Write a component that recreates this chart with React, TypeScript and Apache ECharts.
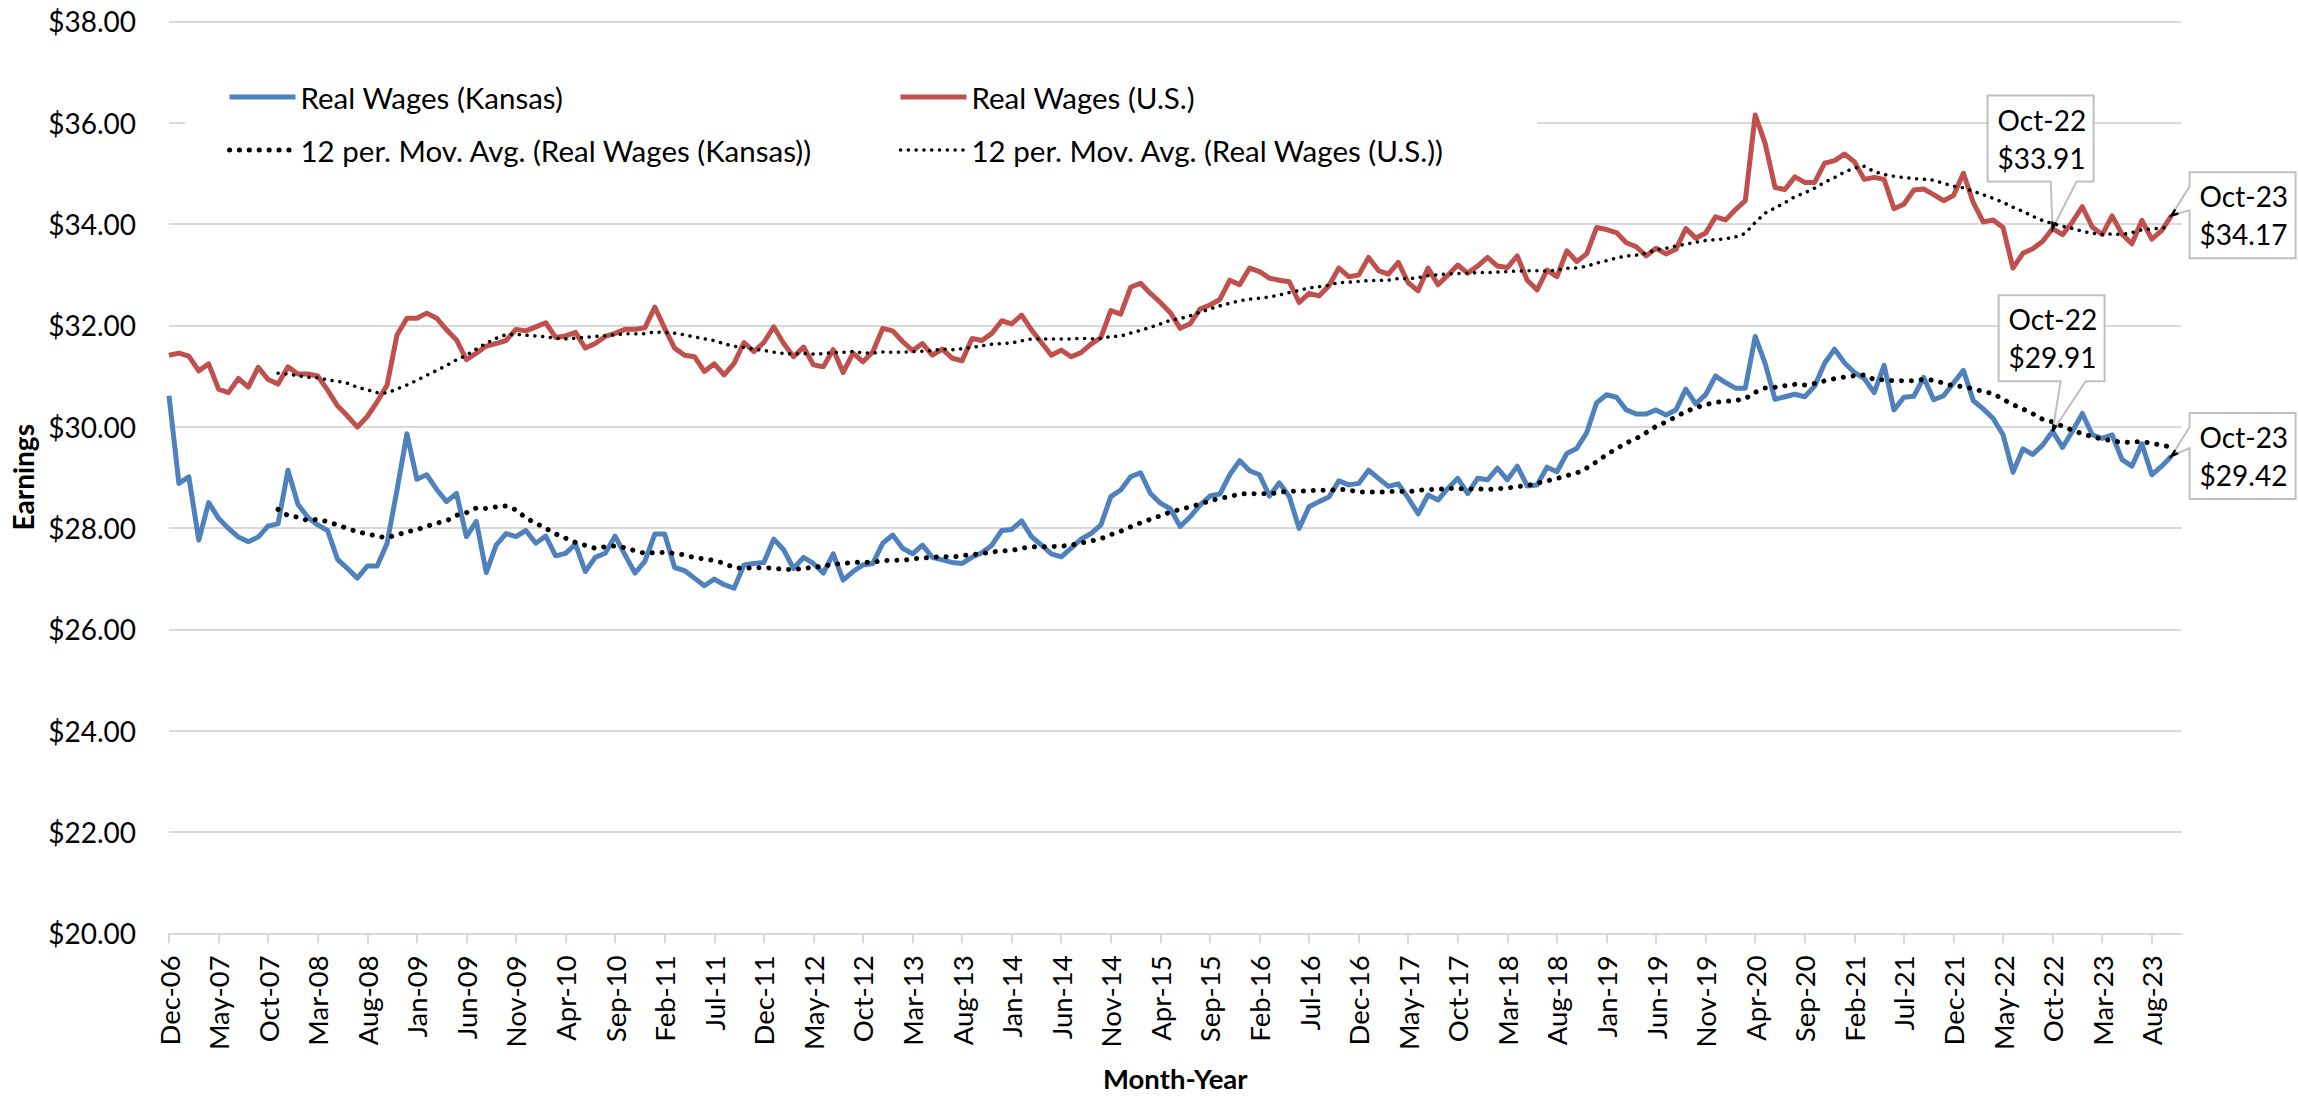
import React, { useEffect, useRef } from "react";
import * as echarts from "echarts";

// ---------- categories (Dec-06 ... Nov-23, monthly) ----------
const MONTHS = ["Jan", "Feb", "Mar", "Apr", "May", "Jun", "Jul", "Aug", "Sep", "Oct", "Nov", "Dec"];
const FIRST_YEAR = 2006;
const FIRST_MONTH = 11; // December
const CATEGORY_COUNT = 204;
const CATEGORIES: string[] = Array.from({ length: CATEGORY_COUNT }, (_, i) => {
  const m = (FIRST_MONTH + i) % 12;
  const y = FIRST_YEAR + Math.floor((FIRST_MONTH + i) / 12);
  return `${MONTHS[m]}-${String(y % 100).padStart(2, "0")}`;
});

// ---------- Real wages, Kansas ----------
const KS_2006 = [30.61];
const KS_2007 = [28.88, 29.01, 27.76, 28.5, 28.19, 27.99, 27.82, 27.73, 27.82, 28.04, 28.08, 29.14];
const KS_2008 = [28.47, 28.21, 28.06, 27.95, 27.38, 27.2, 27.01, 27.25, 27.25, 27.7, 28.75, 29.86];
const KS_2009 = [28.96, 29.05, 28.76, 28.52, 28.68, 27.83, 28.13, 27.12, 27.66, 27.89, 27.83, 27.95];
const KS_2010 = [27.7, 27.84, 27.45, 27.5, 27.68, 27.14, 27.42, 27.5, 27.84, 27.47, 27.11, 27.34];
const KS_2011 = [27.88, 27.88, 27.22, 27.16, 27.01, 26.86, 26.99, 26.88, 26.81, 27.27, 27.3, 27.32];
const KS_2012 = [27.78, 27.57, 27.2, 27.42, 27.3, 27.11, 27.49, 26.97, 27.14, 27.27, 27.3, 27.7];
const KS_2013 = [27.86, 27.6, 27.49, 27.66, 27.42, 27.37, 27.32, 27.3, 27.42, 27.51, 27.66, 27.95];
const KS_2014 = [27.97, 28.14, 27.83, 27.66, 27.49, 27.43, 27.6, 27.78, 27.89, 28.06, 28.62, 28.75];
const KS_2015 = [29.01, 29.09, 28.68, 28.49, 28.38, 28.03, 28.22, 28.45, 28.63, 28.67, 29.05, 29.33];
const KS_2016 = [29.13, 29.05, 28.63, 28.89, 28.62, 27.99, 28.42, 28.52, 28.61, 28.93, 28.85, 28.88];
const KS_2017 = [29.14, 28.98, 28.82, 28.87, 28.59, 28.28, 28.65, 28.55, 28.78, 28.98, 28.68, 28.98];
const KS_2018 = [28.95, 29.18, 28.95, 29.22, 28.83, 28.85, 29.2, 29.11, 29.47, 29.57, 29.88, 30.47];
const KS_2019 = [30.63, 30.58, 30.33, 30.25, 30.25, 30.33, 30.23, 30.33, 30.74, 30.45, 30.63, 31.0];
const KS_2020 = [30.87, 30.76, 30.76, 31.78, 31.25, 30.54, 30.59, 30.64, 30.59, 30.8, 31.25, 31.53];
const KS_2021 = [31.26, 31.07, 30.95, 30.67, 31.21, 30.33, 30.58, 30.6, 30.97, 30.53, 30.61, 30.86];
const KS_2022 = [31.11, 30.51, 30.35, 30.16, 29.84, 29.1, 29.56, 29.45, 29.64, 29.91, 29.59, 29.91];
const KS_2023 = [30.26, 29.84, 29.77, 29.84, 29.35, 29.22, 29.66, 29.05, 29.22, 29.42, null];

// ---------- Real wages, U.S. ----------
const US_2006 = [31.41];
const US_2007 = [31.45, 31.39, 31.1, 31.24, 30.74, 30.67, 30.95, 30.78, 31.17, 30.93, 30.84, 31.18];
const US_2008 = [31.04, 31.04, 31.0, 30.72, 30.41, 30.21, 29.99, 30.2, 30.49, 30.82, 31.81, 32.14];
const US_2009 = [32.14, 32.24, 32.14, 31.91, 31.71, 31.32, 31.45, 31.59, 31.64, 31.7, 31.92, 31.89];
const US_2010 = [31.97, 32.05, 31.76, 31.79, 31.86, 31.55, 31.64, 31.78, 31.84, 31.92, 31.92, 31.95];
const US_2011 = [32.36, 31.94, 31.55, 31.41, 31.38, 31.09, 31.24, 31.02, 31.25, 31.66, 31.48, 31.66];
const US_2012 = [31.97, 31.64, 31.38, 31.57, 31.22, 31.18, 31.52, 31.07, 31.45, 31.28, 31.48, 31.94];
const US_2013 = [31.89, 31.68, 31.5, 31.64, 31.41, 31.53, 31.35, 31.3, 31.74, 31.7, 31.84, 32.09];
const US_2014 = [32.03, 32.2, 31.91, 31.66, 31.41, 31.51, 31.38, 31.46, 31.63, 31.76, 32.29, 32.22];
const US_2015 = [32.75, 32.83, 32.63, 32.45, 32.25, 31.94, 32.03, 32.32, 32.4, 32.51, 32.89, 32.8];
const US_2016 = [33.13, 33.06, 32.93, 32.89, 32.86, 32.45, 32.63, 32.58, 32.78, 33.13, 32.96, 32.99];
const US_2017 = [33.34, 33.08, 33.01, 33.24, 32.84, 32.68, 33.13, 32.8, 32.99, 33.19, 33.03, 33.17];
const US_2018 = [33.34, 33.17, 33.14, 33.37, 32.89, 32.7, 33.09, 32.96, 33.47, 33.26, 33.41, 33.93];
const US_2019 = [33.89, 33.83, 33.63, 33.55, 33.37, 33.52, 33.41, 33.5, 33.91, 33.72, 33.82, 34.14];
const US_2020 = [34.08, 34.28, 34.46, 36.15, 35.59, 34.72, 34.68, 34.93, 34.82, 34.82, 35.2, 35.25];
const US_2021 = [35.38, 35.23, 34.88, 34.92, 34.88, 34.3, 34.39, 34.67, 34.69, 34.58, 34.46, 34.56];
const US_2022 = [35.0, 34.42, 34.04, 34.08, 33.93, 33.13, 33.42, 33.51, 33.66, 33.91, 33.79, 34.04];
const US_2023 = [34.34, 33.94, 33.79, 34.16, 33.8, 33.61, 34.07, 33.7, 33.87, 34.17, null];

const KANSAS: (number | null)[] = [
  ...KS_2006, ...KS_2007, ...KS_2008, ...KS_2009, ...KS_2010, ...KS_2011, ...KS_2012, ...KS_2013,
  ...KS_2014, ...KS_2015, ...KS_2016, ...KS_2017, ...KS_2018, ...KS_2019, ...KS_2020, ...KS_2021,
  ...KS_2022, ...KS_2023,
];
const US: (number | null)[] = [
  ...US_2006, ...US_2007, ...US_2008, ...US_2009, ...US_2010, ...US_2011, ...US_2012, ...US_2013,
  ...US_2014, ...US_2015, ...US_2016, ...US_2017, ...US_2018, ...US_2019, ...US_2020, ...US_2021,
  ...US_2022, ...US_2023,
];

// labelled points (category indices)
const LABELLED_POINTS = [190, 202];

const Y_MIN = 20;
const Y_MAX = 38;
const Y_STEP = 2;
const MA_PERIOD = 12;

const KS_NAME = "Real Wages (Kansas)";
const US_NAME = "Real Wages (U.S.)";
const KS_MA_NAME = "12 per. Mov. Avg. (Real Wages (Kansas))";
const US_MA_NAME = "12 per. Mov. Avg. (Real Wages (U.S.))";

function movingAverage(values: (number | null)[], period: number): (number | null)[] {
  return values.map((_, i) => {
    if (i < period - 1) return null;
    const w = values.slice(i - period + 1, i + 1);
    if (w.some((v) => v == null)) return null;
    return (w as number[]).reduce((a, b) => a + b, 0) / period;
  });
}

const FONT = "Lato, 'Open Sans', sans-serif";
const GRID_COLOR = "#D9D9D9";
const BORDER_COLOR = "#BFBFBF";

const KS_COLOR = "#4F81BD";
const US_COLOR = "#C0504D";
const LINE_W = 5;
const KS_MA_STYLE = { color: "#000", width: 5, type: [0.1, 9.8], cap: "round" };
const US_MA_STYLE = { color: "#000", width: 3.5, type: [0.1, 7.7], cap: "round" };

export default function App() {
  const ref = useRef<HTMLDivElement>(null);

  useEffect(() => {
    if (!ref.current) return;
    const chart = echarts.init(ref.current, undefined, { renderer: "svg" });

    const ksMA = movingAverage(KANSAS, MA_PERIOD);
    const usMA = movingAverage(US, MA_PERIOD);

    const legendText = { fontSize: 29.5, color: "#000", lineHeight: 30, fontFamily: FONT };
    const legendCommon = {
      orient: "vertical",
      top: 82,
      padding: 0,
      itemWidth: 66,
      itemHeight: 14,
      itemGap: 23,
      selectedMode: false,
      itemStyle: { opacity: 0 },
      textStyle: legendText,
    };

    const option: any = {
      animation: false,
      backgroundColor: "#fff",
      textStyle: { fontFamily: FONT },
      grid: { left: 169, right: 116.5, top: 21.3, bottom: 162.7, outerBoundsMode: "none" },
      legend: [
        {
          ...legendCommon,
          left: 227,
          data: [
            { name: KS_NAME, lineStyle: { width: LINE_W, color: KS_COLOR } },
            { name: KS_MA_NAME, lineStyle: { ...KS_MA_STYLE } },
          ],
        },
        {
          ...legendCommon,
          left: 898,
          data: [
            { name: US_NAME, lineStyle: { width: LINE_W, color: US_COLOR } },
            { name: US_MA_NAME, lineStyle: { ...US_MA_STYLE } },
          ],
        },
      ],
      xAxis: {
        type: "category",
        data: CATEGORIES,
        boundaryGap: false,
        name: "Month-Year",
        nameLocation: "middle",
        nameGap: 131,
        nameTextStyle: { fontSize: 27.5, fontWeight: "bold", color: "#000", fontFamily: FONT, lineHeight: 28 },
        axisLine: { lineStyle: { color: GRID_COLOR, width: 2 } },
        axisTick: { interval: 4, length: 10, lineStyle: { color: GRID_COLOR, width: 2 } },
        axisLabel: { interval: 4, rotate: 90, fontSize: 27.5, color: "#000", margin: 22, fontFamily: FONT },
        splitLine: { show: false },
      },
      yAxis: {
        type: "value",
        min: Y_MIN,
        max: Y_MAX,
        interval: Y_STEP,
        name: "Earnings",
        nameLocation: "middle",
        nameGap: 132,
        nameTextStyle: { fontSize: 28, fontWeight: "bold", color: "#000", fontFamily: FONT },
        axisLine: { show: false },
        axisTick: { show: false },
        axisLabel: {
          fontSize: 28,
          color: "#000",
          margin: 33,
          fontFamily: FONT,
          formatter: (v: number) => "$" + v.toFixed(2),
        },
        splitLine: { lineStyle: { color: GRID_COLOR, width: 2 } },
      },
      series: [
        {
          name: KS_NAME,
          type: "line",
          data: KANSAS,
          symbol: "none",
          color: KS_COLOR,
          lineStyle: { color: KS_COLOR, width: LINE_W, join: "round" },
          z: 2,
        },
        {
          name: US_NAME,
          type: "line",
          data: US,
          symbol: "none",
          color: US_COLOR,
          lineStyle: { color: US_COLOR, width: LINE_W, join: "round" },
          z: 2,
        },
        {
          name: KS_MA_NAME,
          type: "line",
          data: ksMA,
          symbol: "none",
          color: "#000",
          lineStyle: { ...KS_MA_STYLE },
          z: 3,
        },
        {
          name: US_MA_NAME,
          type: "line",
          data: usMA,
          symbol: "none",
          color: "#000",
          lineStyle: { ...US_MA_STYLE },
          z: 3,
        },
      ],
    };

    chart.setOption(option);

    // ----- callouts anchored on data points -----
    const BOX_W = 106;
    const BOX_H = 86;
    const calloutSpecs = [
      { values: US, index: LABELLED_POINTS[0], dx: -65, dy: -133, side: "bottom", w1: -2, w2: 24 },
      { values: KANSAS, index: LABELLED_POINTS[0], dx: -54, dy: -136, side: "bottom", w1: 8, w2: 33 },
      { values: US, index: LABELLED_POINTS[1], dx: 18, dy: -43, side: "left", w1: -29, w2: -5 },
      { values: KANSAS, index: LABELLED_POINTS[1], dx: 18, dy: -43, side: "left", w1: -29, w2: -8 },
    ];

    const graphics: any[] = [
      // white legend background (hides gridline behind legend, like the original)
      {
        type: "rect",
        shape: { x: 185, y: 60, width: 1352, height: 124 },
        style: { fill: "#fff" },
        z: 1,
        silent: true,
      },
    ];

    calloutSpecs.forEach((c) => {
      const v = c.values[c.index] as number;
      const [tx, ty] = chart.convertToPixel({ xAxisIndex: 0, yAxisIndex: 0 }, [c.index, v]) as number[];
      const L = tx + c.dx;
      const T = ty + c.dy;
      const R = L + BOX_W;
      const B = T + BOX_H;
      let pts: number[][];
      let b1: number[];
      let b2: number[];
      if (c.side === "bottom") {
        b1 = [tx + c.w1, B];
        b2 = [tx + c.w2, B];
        pts = [[L, T], [R, T], [R, B], b2, [tx, ty], b1, [L, B]];
      } else {
        b1 = [L, ty + c.w1];
        b2 = [L, ty + c.w2];
        pts = [[L, T], [R, T], [R, B], [L, B], b2, [tx, ty], b1];
      }
      graphics.push({
        type: "polygon",
        shape: { points: pts },
        style: { fill: "#fff", stroke: BORDER_COLOR, lineWidth: 2 },
        z: 10,
        silent: true,
      });
      const unit = (p: number[]) => {
        const ddx = p[0] - tx;
        const ddy = p[1] - ty;
        const len = Math.hypot(ddx, ddy) || 1;
        return [tx + (ddx / len) * 7, ty + (ddy / len) * 7];
      };
      graphics.push({
        type: "polyline",
        shape: { points: [unit(b1), [tx, ty], unit(b2)] },
        style: { stroke: "#000", lineWidth: 2.5, fill: null },
        z: 11,
        silent: true,
      });
      graphics.push({
        type: "text",
        x: L + 10,
        y: T + BOX_H / 2,
        style: {
          text: `${CATEGORIES[c.index]}\n$${v.toFixed(2)}`,
          fontSize: 28,
          fontFamily: FONT,
          fill: "#000",
          align: "left",
          verticalAlign: "middle",
          lineHeight: 38,
        },
        z: 12,
        silent: true,
      });
    });

    chart.setOption({ graphic: graphics });

    return () => chart.dispose();
  }, []);

  return (
    <div
      ref={ref}
      style={{ position: "fixed", left: 0, top: 0, width: 2298, height: 1096, background: "#fff" }}
    />
  );
}
